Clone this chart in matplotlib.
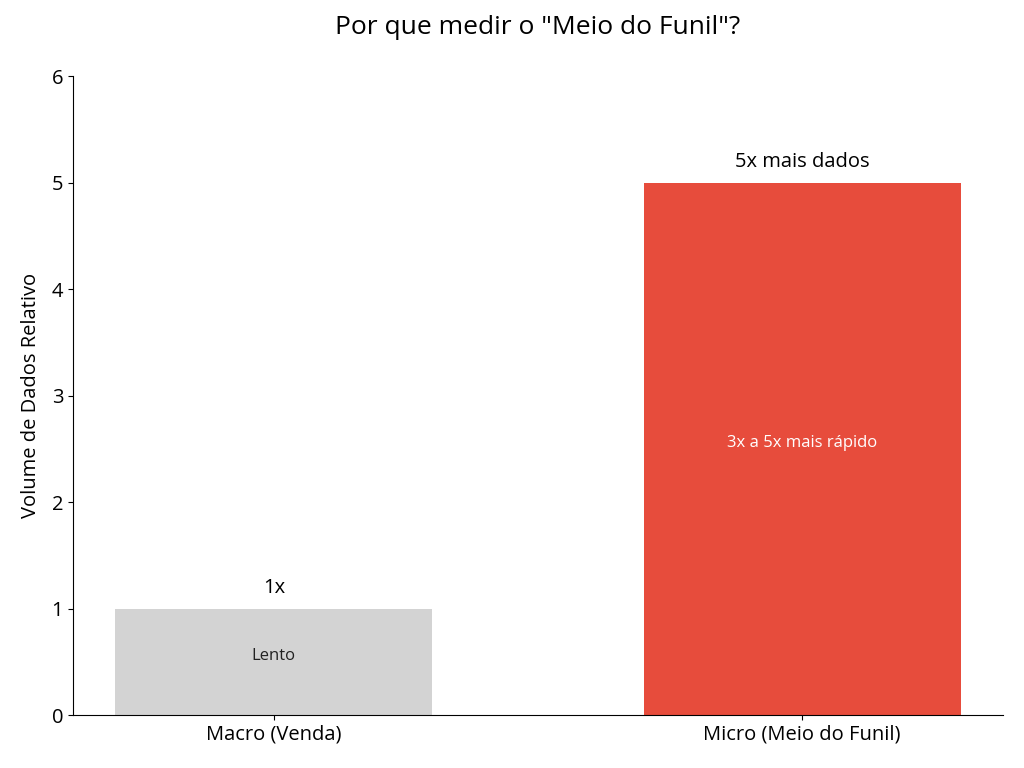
import matplotlib.pyplot as plt

plt.rcParams['font.family'] = ['Open Sans', 'DejaVu Sans']

categories = ['Macro (Venda)', 'Micro (Meio do Funil)']
volumes = [1, 5]
top_labels = ['1x', '5x mais dados']
inner_labels = ['Lento', '3x a 5x mais rápido']
colors = ['#d3d3d3', '#e74c3c']
inner_colors = ['#222222', 'white']

fig = plt.figure(figsize=(10.24, 7.68), dpi=100)
ax = fig.add_axes([0.0713, 0.069, 0.9082, 0.832])

x = range(len(categories))
bars = ax.bar(x, volumes, width=0.6, color=colors)

# labels above and inside the bars
for i, b in enumerate(bars):
    h = b.get_height()
    ax.text(b.get_x() + b.get_width() / 2, h + 0.1, top_labels[i],
            ha='center', va='bottom', fontsize=14.5)
    ax.text(b.get_x() + b.get_width() / 2, h / 2 + 0.05, inner_labels[i],
            ha='center', va='center', fontsize=12, color=inner_colors[i])

ax.set_xticks(list(x))
ax.set_xticklabels(categories, fontsize=14.5)
ax.set_ylim(0, 6)
ax.set_yticks(range(0, 7))
ax.tick_params(axis='y', labelsize=14.5)
ax.set_ylabel('Volume de Dados Relativo', fontsize=14.5, labelpad=8)
ax.spines['top'].set_visible(False)
ax.spines['right'].set_visible(False)

ax.set_title('Por que medir o "Meio do Funil"?', fontsize=19, pad=30)

plt.savefig('out.png', dpi=100)
